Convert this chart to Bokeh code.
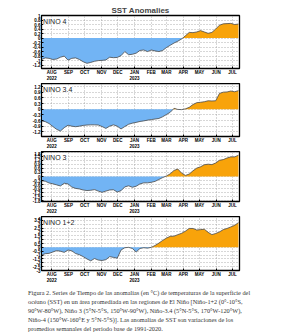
import pandas as pd
from bokeh.plotting import figure
from bokeh.layouts import column
from bokeh.models import FixedTicker, CustomJSTickFormatter, Label, Range1d, Div
from bokeh.embed import file_html
from bokeh.resources import INLINE

# Weekly SST anomalies (deg C), week centred on Wednesday
first_week = "2022-07-13"
n_weeks = 53

month_starts = ["2022-08-01", "2022-09-01", "2022-10-01", "2022-11-01", "2022-12-01",
                "2023-01-01", "2023-02-01", "2023-03-01", "2023-04-01", "2023-05-01",
                "2023-06-01", "2023-07-01"]
month_labels = ["AUG\n2022", "SEP", "OCT", "NOV", "DEC", "JAN\n2023",
                "FEB", "MAR", "APR", "MAY", "JUN", "JUL"]

nino4 = [-0.95, -0.88, -0.90, -0.95, -0.93, -0.85, -0.80, -0.98, -0.90, -0.88,
         -0.95, -1.05, -1.12, -1.08, -1.03, -1.00, -0.99, -0.97, -0.85, -0.87,
         -0.86, -0.78, -0.60, -0.74, -0.72, -0.67, -0.55, -0.53, -0.60, -0.53,
         -0.57, -0.60, -0.55, -0.42, -0.32, -0.22, -0.14, -0.04, 0.10, 0.25,
         0.24, 0.27, 0.33, 0.27, 0.21, 0.25, 0.40, 0.57, 0.63, 0.64,
         0.65, 0.60, 0.62]

nino34 = [-0.62, -0.66, -0.76, -0.92, -1.07, -1.16, -0.98, -0.85, -0.90, -0.93,
          -0.90, -0.86, -0.84, -0.83, -0.83, -0.84, -0.92, -1.02, -0.90, -0.83,
          -0.90, -1.05, -0.92, -0.80, -0.74, -0.70, -0.65, -0.62, -0.58, -0.55,
          -0.52, -0.49, -0.40, -0.28, -0.16, 0.05, -0.01, -0.02, 0.02, 0.10,
          0.25, 0.35, 0.37, 0.40, 0.45, 0.44, 0.45, 0.84, 0.91, 0.92,
          0.97, 0.93, 0.99]

nino3 = [-0.32, -0.35, -0.48, -0.54, -0.62, -0.70, -0.50, -0.55, -0.78, -0.88,
         -0.92, -1.00, -1.04, -1.02, -0.97, -1.08, -1.17, -1.08, -1.00, -0.98,
         -1.15, -1.05, -0.77, -0.69, -0.80, -0.72, -0.55, -0.47, -0.47, -0.43,
         -0.36, -0.22, -0.08, 0.04, 0.20, 0.45, 0.55, 0.25, 0.08, 0.18,
         0.42, 0.62, 0.72, 0.87, 0.91, 0.88, 1.00, 1.20, 1.25, 1.37,
         1.45, 1.45, 1.57]

nino12 = [-1.00, -0.82, -0.78, -0.60, -0.42, -0.50, -0.65, -0.35, -0.45, -0.80,
          -0.95, -1.20, -1.50, -1.75, -1.45, -1.65, -1.70, -1.60, -1.20, -1.30,
          -1.40, -0.35, -0.05, 0.00, -0.15, -0.60, -0.15, -0.05, -0.10, 0.00,
          0.25, 0.55, 0.90, 1.20, 1.43, 1.45, 1.65, 1.82, 2.10, 2.45,
          2.45, 2.25, 2.30, 2.35, 1.95, 1.65, 1.80, 2.00, 2.30, 2.45,
          2.65, 2.85, 3.20]

panels = [
    ("NINO 4", nino4, (-1.35, 1.0), [-1.2, -1.0, -0.8, -0.6, -0.4, -0.2, 0, 0.2, 0.4, 0.6, 0.8, 1.0]),
    ("NINO 3.4", nino34, (-1.45, 1.37), [-1.2, -0.9, -0.6, -0.3, 0, 0.3, 0.6, 0.9, 1.2]),
    ("NINO 3", nino3, (-1.85, 1.85), [-1.8, -1.5, -1.2, -0.9, -0.6, -0.3, 0, 0.3, 0.6, 0.9, 1.2, 1.5, 1.8]),
    ("NINO 1+2", nino12, (-3.0, 4.0), [-3, -2.5, -2, -1.5, -1, -0.5, 0, 0.5, 1, 1.5, 2, 2.5, 3, 3.5, 4]),
]

caption_lines = [
    "Figura 2. Series de Tiempo de las anomalías (en °C) de temperaturas de la superficie del",
    "océano (SST) en un área promediada en las regiones de El Niño [Niño-1+2 (0°-10°S,",
    "90°W-80°W), Niño 3 (5°N-5°S, 150°W-90°W), Niño-3.4 (5°N-5°S, 170°W-120°W),",
    "Niño-4 (150°W-160°E y 5°N-5°S)]. Las anomalías de SST son variaciones de los",
    "promedios semanales del período base de 1991-2020.",
]

BLUE = "#72B4F4"
ORANGE = "#F8A30A"

t0 = pd.Timestamp(first_week)
weeks = pd.date_range(t0, periods=n_weeks, freq="7D")
xdays = [(d - t0).days for d in weeks]
month_days = [(pd.Timestamp(m) - t0).days for m in month_starts]


def split_at_zero(x, y):
    """Insert zero crossings so the two fills meet cleanly."""
    xs, ys = [x[0]], [y[0]]
    for i in range(1, len(x)):
        a, b = y[i - 1], y[i]
        if (a < 0 < b) or (a > 0 > b):
            t = a / (a - b)
            xs.append(x[i - 1] + t * (x[i] - x[i - 1]))
            ys.append(0.0)
        xs.append(x[i])
        ys.append(y[i])
    return xs, [min(v, 0.0) for v in ys], [max(v, 0.0) for v in ys]


sizes = [(83, 15, 12), (68, 0, 12), (65, 0, 10), (69, 0, 12)]
figs = []
for k, (name, vals, yr, yticks) in enumerate(panels):
    h, top, bottom = sizes[k]
    p = figure(width=283, height=h, output_backend="svg", toolbar_location=None,
               x_range=Range1d(xdays[0], xdays[-1] + 2), y_range=Range1d(*yr),
               min_border_left=41, min_border_right=44,
               min_border_top=top, min_border_bottom=bottom,
               background_fill_color="white", border_fill_color="white")
    p.outline_line_color = "black"
    p.outline_line_width = 1.3

    xs, neg, pos = split_at_zero(xdays, vals)
    p.varea(x=xs, y1=neg, y2=0, fill_color=BLUE)
    p.varea(x=xs, y1=0, y2=pos, fill_color=ORANGE)
    p.line(xdays, vals, line_color="#4a4a4a", line_width=0.8)

    p.xaxis.ticker = FixedTicker(ticks=month_days)
    p.xaxis.major_label_overrides = dict(zip(month_days, month_labels))
    p.yaxis.ticker = FixedTicker(ticks=yticks)
    p.yaxis.formatter = CustomJSTickFormatter(code="return String(Number(tick.toFixed(2)))")

    for ax in (p.xaxis[0], p.yaxis[0]):
        ax.major_label_text_font = "Liberation Sans"
        ax.major_label_text_font_style = "bold"
        ax.major_label_text_font_size = "4.5px"
        ax.major_label_text_color = "black"
        ax.major_label_standoff = 1
        ax.major_tick_in = 2
        ax.major_tick_out = 0
        ax.minor_tick_line_color = None
        ax.axis_line_color = "black"
        ax.major_tick_line_color = "black"

    for g in (p.xgrid[0], p.ygrid[0]):
        g.grid_line_color = "#9a9a9a"
        g.grid_line_dash = "1 2"
        g.grid_line_width = 0.8
    p.xgrid.ticker = FixedTicker(ticks=month_days)
    p.ygrid.ticker = FixedTicker(ticks=yticks)

    p.add_layout(Label(x=xdays[0] + 3, y=yr[1], y_offset=-2, text=name,
                       text_baseline="top", text_font="Liberation Sans",
                       text_font_size="7px", text_color="#222222",
                       background_fill_color="white"))
    figs.append(p)

title = figs[0].title
title.text = "SST Anomalies"
title.align = "center"
title.text_font = "Liberation Sans"
title.text_font_size = "8px"
title.text_font_style = "bold"
title.standoff = 2

# Figure caption under the four panels
caption_html = (
    "<div style=\"font-family:'Liberation Serif',serif;font-size:6.3px;line-height:9px;"
    "color:#333333;white-space:nowrap;padding:3px 0 0 28px;\">"
    + "<br>".join(caption_lines) + "</div>"
)
cap = Div(text=caption_html, width=283, height=49, margin=0)

layout = column(*figs, cap, spacing=0)
open("out.html", "w").write(file_html(layout, INLINE))
